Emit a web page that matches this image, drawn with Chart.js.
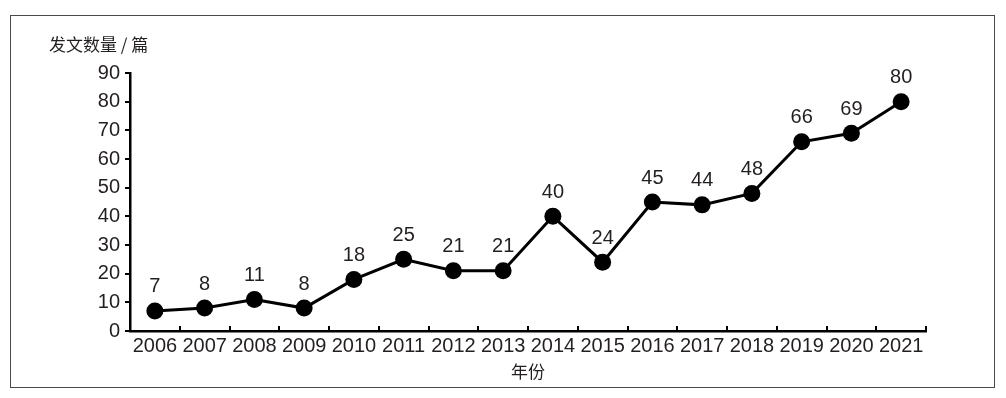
<!DOCTYPE html>
<html>
<head>
<meta charset="utf-8">
<script src="https://cdn.jsdelivr.net/npm/chart.js@4"></script>
<style>
  body { margin: 0; background: #fff; }
  #frame {
    position: absolute;
    left: 10px;
    top: 15px;
    width: 983px;
    height: 371px;
    border: 1px solid #4a4a4a;
  }
</style>
</head>
<body>
<div id="frame"><canvas id="chart"></canvas></div>
<script>
const years = ["2006", "2007", "2008", "2009", "2010", "2011", "2012", "2013",
               "2014", "2015", "2016", "2017", "2018", "2019", "2020", "2021"];
const papers = [7, 8, 11, 8, 18, 25, 21, 21, 40, 24, 45, 44, 48, 66, 69, 80];
const yTicks = [0, 10, 20, 30, 40, 50, 60, 70, 80, 90];

const NUM_FONT = "'Liberation Sans', Arial, 'Noto Sans CJK SC', sans-serif";
const CJK_FONT = "'Noto Sans CJK SC', 'Liberation Sans', sans-serif";
const TEXT = "#231f20";

// 数值标签 + y轴标题 + x轴内侧刻度
const extras = {
    id: "extras",
    afterDatasetsDraw(chart) {
        const { ctx, scales: { x, y } } = chart;
        const meta = chart.getDatasetMeta(0);

        ctx.save();
        ctx.fillStyle = TEXT;
        ctx.font = "20px " + NUM_FONT;
        ctx.textAlign = "center";
        ctx.textBaseline = "middle";
        meta.data.forEach((pt, i) => {
            ctx.fillText(String(papers[i]), pt.x, pt.y - 24);
        });

        ctx.font = "17px " + CJK_FONT;
        ctx.textAlign = "left";
        ctx.fillText("发文数量 / 篇", 38, 29);

        // category boundary ticks pointing up
        const step = x.getPixelForValue(1) - x.getPixelForValue(0);
        ctx.strokeStyle = "#000";
        ctx.lineWidth = 2;
        ctx.beginPath();
        for (let i = 1; i <= years.length; i++) {
            const px = Math.round(x.getPixelForValue(i) - step / 2);
            ctx.moveTo(px, y.bottom);
            ctx.lineTo(px, y.bottom - 5);
        }
        ctx.stroke();
        ctx.restore();
    }
};

new Chart(document.getElementById("chart"), {
    type: "line",
    data: {
        labels: years,
        datasets: [{
            data: papers,
            borderColor: "#000",
            backgroundColor: "#000",
            borderWidth: 3,
            pointRadius: 8.5,
            pointHoverRadius: 8.5,
            pointBackgroundColor: "#000",
            pointBorderWidth: 0,
            tension: 0
        }]
    },
    options: {
        responsive: true,
        maintainAspectRatio: false,
        animation: false,
        layout: { padding: { left: 0, top: 57, right: 68, bottom: 0 } },
        plugins: {
            legend: { display: false },
            tooltip: { enabled: false }
        },
        scales: {
            x: {
                offset: true,
                afterFit: (scale) => { scale.height = 56; },
                grid: { display: false, drawTicks: false },
                border: { display: true, color: "#000", width: 2.5 },
                ticks: {
                    color: TEXT,
                    padding: 3,
                    maxRotation: 0,
                    autoSkip: false,
                    font: { family: NUM_FONT, size: 20 }
                },
                title: {
                    display: true,
                    text: "年份",
                    color: TEXT,
                    padding: { top: 2, bottom: 5 },
                    font: { family: CJK_FONT, size: 17 }
                }
            },
            y: {
                min: 0,
                max: 90,
                afterFit: (scale) => { scale.width = 119; },
                afterBuildTicks: (scale) => { scale.ticks = yTicks.map(v => ({ value: v })); },
                grid: {
                    drawOnChartArea: false,
                    drawTicks: true,
                    tickLength: 5,
                    color: "#000",
                    lineWidth: 2
                },
                border: { display: true, color: "#000", width: 2.5 },
                ticks: {
                    color: TEXT,
                    padding: 5,
                    font: { family: NUM_FONT, size: 20 }
                }
            }
        }
    },
    plugins: [extras]
});
</script>
</body>
</html>
